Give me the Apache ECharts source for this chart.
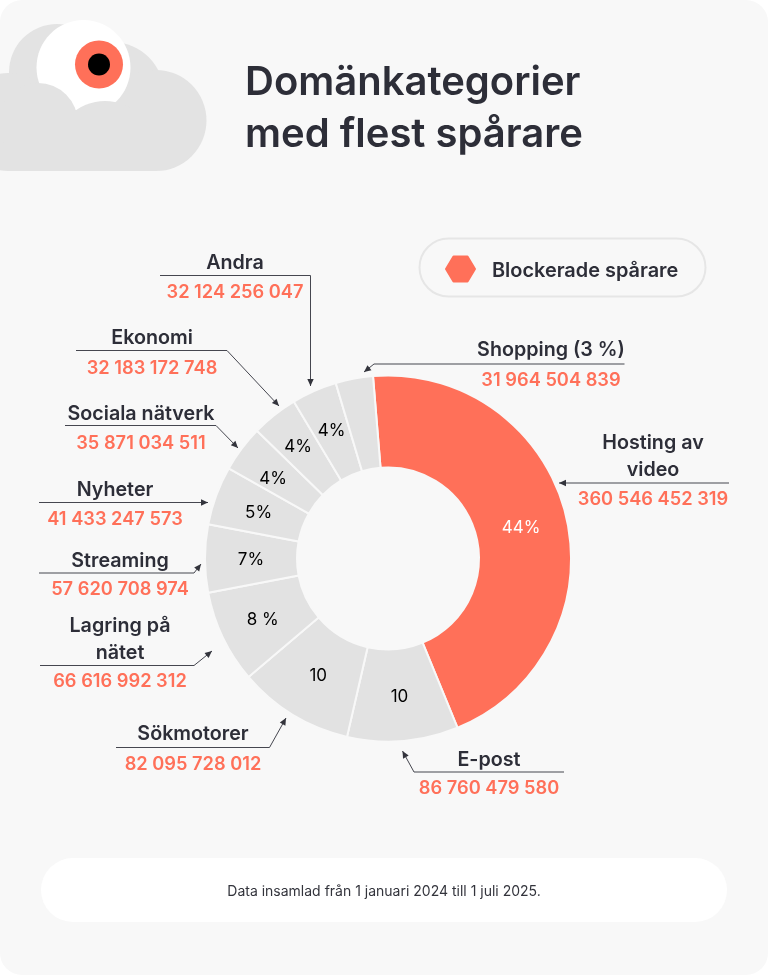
<!DOCTYPE html>
<html>
<head>
<meta charset="utf-8">
<style>html,body{margin:0;padding:0;background:#fff}#c{width:768px;height:975px}</style>
<script src="https://cdn.jsdelivr.net/npm/echarts@6/dist/echarts.min.js"></script>
</head>
<body>
<div id="c"></div>
<script>
// Data
const categories = ['Hosting av\nvideo','E-post','Sökmotorer','Lagring på\nnätet','Streaming','Nyheter','Sociala nätverk','Ekonomi','Andra','Shopping (3 %)'];
const trackerCounts = ['360 546 452 319','86 760 479 580','82 095 728 012','66 616 992 312','57 620 708 974','41 433 247 573','35 871 034 511','32 183 172 748','32 124 256 047','31 964 504 839'];
const sliceShares = [45.1,9.8,10.2,8.2,6.0,5.2,4.1,4.1,4.0,3.3];
const sliceLabels = ['44%','10','10','8 %','7%','5%','4%','4%','4%',''];
const titleLines = ['Domänkategorier','med flest spårare'];
const legendName = 'Blockerade spårare';
const footnote = 'Data insamlad från 1 januari 2024 till 1 juli 2025.';

// Layout (same order as categories)
const labelNudges = [[-3,2],[0,-1],[3,-2],[1,1],[3,1],[2,3],[-3,4],[-3,-2],[0,1],[0,0]];
const calloutLayout = [
  {x:653,nameY:455,valY:498,path:[[729,483],[559,483]]},
  {x:489,nameY:758.5,valY:787,path:[[564,772],[414,772],[402.5,751]]},
  {x:193,nameY:732.5,valY:763,path:[[116,747.5],[269.5,747.5],[286,718]]},
  {x:120,nameY:638,valY:680,path:[[40,665.5],[194,665.5],[212,651]]},
  {x:120,nameY:559.5,valY:588,path:[[39,573],[194,573],[201,564]]},
  {x:115,nameY:488.5,valY:518,path:[[39,502.5],[208,502.5]]},
  {x:141,nameY:412.5,valY:442,path:[[65,425.5],[216,425.5],[238,448]]},
  {x:152,nameY:336.5,valY:367,path:[[76,350.5],[227,350.5],[279,406]]},
  {x:235,nameY:261.5,valY:291,path:[[160,275.5],[310.5,275.5],[310.5,386]]},
  {x:551,nameY:348.5,valY:379,path:[[624.5,364],[374,364],[364,372]]}
];

const FONT = 'Inter, "Noto Sans", sans-serif';
const DARK = '#2d2e38', ORANGE = '#ff7059', GREY = '#e3e3e3', BG = '#f8f8f8';
const TY = 1.5; // baseline adjustment for middle-aligned text
const g = [];

// Card
g.push({type:'rect',z:0,shape:{x:0,y:0,width:768,height:975,r:22},style:{fill:BG}});

// Cloud illustration
const circ = (cx,cy,r,fill,z)=>({type:'circle',z:z,shape:{cx,cy,r},style:{fill}});
g.push({type:'group',z:1,clipPath:{type:'rect',shape:{x:0,y:0,width:768,height:171}},children:[
  circ(57,72,48,GREY,1), circ(112,94,52,GREY,1), circ(156,120.5,50.5,GREY,1),
  {type:'ellipse',z:2,shape:{cx:83.5,cy:67.5,rx:47,ry:47.5},style:{fill:'#fff'}},
  circ(99,64.5,24,ORANGE,3), circ(99,64.5,11,'#000',4),
  circ(8,122,49,GREY,5), circ(38,123,40,GREY,5), circ(105,151,50,GREY,5),
  {type:'rect',z:5,shape:{x:8,y:125,width:148,height:46},style:{fill:GREY}},
  {type:'rect',z:5,shape:{x:20,y:110,width:140,height:30},style:{fill:GREY}}
]});

// Title
titleLines.forEach((t,i)=>g.push({type:'text',z:6,style:{text:t,x:245,y:81+TY+i*52.5,font:'600 40px '+FONT,fill:DARK,align:'left',verticalAlign:'middle'}}));

// Legend pill
g.push({type:'rect',z:6,shape:{x:419.5,y:238.5,width:286,height:58,r:29},style:{fill:'transparent',stroke:'#e6e6e6',lineWidth:2}});
g.push({type:'polygon',z:6,shape:{points:[[446,269],[453.5,256.5],[467.5,256.5],[475,269],[467.5,281.5],[453.5,281.5]]},style:{fill:ORANGE,stroke:ORANGE,lineWidth:2,lineJoin:'round'}});
g.push({type:'text',z:6,style:{text:legendName,x:492,y:269.5+TY,font:'600 19.9px '+FONT,fill:DARK,align:'left',verticalAlign:'middle'}});

// Footer pill
g.push({type:'rect',z:6,shape:{x:41,y:858,width:686,height:64,r:32},style:{fill:'#fff'}});
g.push({type:'text',z:7,style:{text:footnote,x:384,y:890+TY,font:'400 14px '+FONT,fill:'#33343c',align:'center',verticalAlign:'middle'}});

// Callouts
categories.forEach((name,i)=>{
  const L = calloutLayout[i];
  g.push({type:'text',z:7,style:{text:name,x:L.x,y:L.nameY+TY,font:'600 19.7px '+FONT,lineHeight:26.5,fill:DARK,align:'center',verticalAlign:'middle'}});
  g.push({type:'text',z:7,style:{text:trackerCounts[i],x:L.x,y:L.valY+TY,font:'600 18.25px '+FONT,fill:ORANGE,align:'center',verticalAlign:'middle'}});
  const p = L.path, n = p.length;
  g.push({type:'polyline',z:7,shape:{points:p},style:{fill:'none',stroke:'#45464f',lineWidth:1}});
  const [tx,ty] = p[n-1], [ax,ay] = p[n-2];
  const len = Math.hypot(tx-ax,ty-ay), ux=(tx-ax)/len, uy=(ty-ay)/len, h=7, w=3.2;
  g.push({type:'polygon',z:8,shape:{points:[[tx,ty],[tx-ux*h-uy*w,ty-uy*h+ux*w],[tx-ux*h+uy*w,ty-uy*h-ux*w]]},style:{fill:'#33343c'}});
});

const chart = echarts.init(document.getElementById('c'),null,{renderer:'canvas',width:768,height:975});
chart.setOption({
  animation:false,
  backgroundColor:'transparent',
  graphic:{elements:g},
  series:[{
    type:'pie',
    z:5,
    center:[388,558.5],
    radius:[91,183],
    startAngle:94.7,
    clockwise:true,
    silent:true,
    labelLine:{show:false},
    itemStyle:{borderColor:BG,borderWidth:2},
    label:{show:true,position:'inside',fontFamily:FONT,fontSize:17,color:'#000',formatter:p=>sliceLabels[p.dataIndex]},
    data:sliceShares.map((v,i)=>({
      value:v,name:categories[i],
      itemStyle:{color:i===0?ORANGE:'#e2e2e2'},
      label:{color:i===0?'#fff':'#000',offset:labelNudges[i]}
    }))
  }]
});
</script>
</body>
</html>
